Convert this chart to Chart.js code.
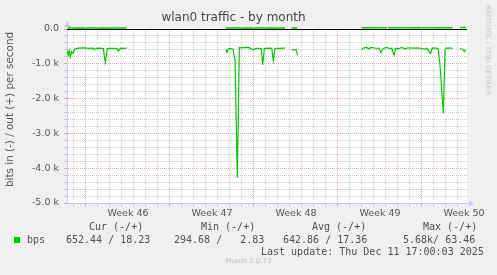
<!DOCTYPE html>
<html>
<head>
<meta charset="utf-8">
<script src="https://cdn.jsdelivr.net/npm/chart.js@4.4.1/dist/chart.umd.min.js"></script>
<style>
  body { margin: 0; background: #f0f0f0; }
  #wrap { position: relative; width: 497px; height: 275px; overflow: hidden; }
  canvas { position: absolute; left: 0; top: 0; }
  .mono { position: absolute; font: 10px "DejaVu Sans Mono", monospace; color: #505050; white-space: pre; line-height: 12px; }
  .sq { position: absolute; left: 14px; top: 237px; width: 6px; height: 6px; background: #00cc00; }
  .munin { position: absolute; left: 0; width: 497px; top: 257px; text-align: center; font: 7px "DejaVu Sans", sans-serif; color: #c0c0c0; }
  .rrd { position: absolute; left: 484px; top: 5px; writing-mode: vertical-rl; font: 7px "DejaVu Sans", sans-serif; color: #c8c8c8; }
  .ytitle { position: absolute; left: 3px; top: 32px; height: 155px; writing-mode: vertical-rl; transform: rotate(180deg);
            font: 10.4px "DejaVu Sans", sans-serif; color: #555; white-space: nowrap; text-align: center; line-height: 13px; }
</style>
</head>
<body>
<div id="wrap">
  <canvas id="trafficChart" width="497" height="275"></canvas>
</div>
<script>
// x = days since Monday of week 46, y = bits per second
const inDays = [-1.58, -1.48, -1.39, -1.31, -1.19, -1.08, -0.92, -0.6, -0.2, 0.2, 0.58, 0.69, 0.83, 1.1, 1.44, 1.61, 1.78, 2.1, 2.56, 2.69, 2.89, 3.15, 3.39, 3.6,
  11.64, 11.75, 11.86, 12.0, 12.25, 12.42, 12.61, 12.78, 13.0, 13.3, 13.6, 13.94, 14.08, 14.3, 14.6, 14.73, 14.86, 15.2, 15.48, 15.61, 15.75, 16.1, 16.58, 16.9,
  17.14, 17.5, 17.64, 17.9,
  22.97, 23.11, 23.39, 23.53, 23.81, 24.22, 24.4, 24.58, 24.78, 25.06, 25.3, 25.47, 25.67, 25.81, 26.03, 26.31, 26.58, 26.86, 27.28, 27.6, 27.97, 28.25, 28.39,
  28.71, 28.86, 29.22, 29.36, 29.5, 29.78, 29.92, 30.06, 30.47, 30.56, 30.85,
  31.17, 31.39, 31.53, 31.67];
const inBits = [-600, -750, -620, -810, -650, -700, -570, -550, -545, -555, -550, -600, -555, -550, -565, -960, -560, -555, -560, -630, -550, -555, -550, null,
  -600, -670, -575, -560, -580, -900, -4270, -530, -540, -530, -535, -600, -570, -555, -560, -1030, -560, -550, -555, -910, -560, -555, -550, null,
  -600, -600, -750, null,
  -600, -550, -530, -570, -530, -560, -545, -680, -560, -530, -560, -550, -750, -550, -570, -530, -570, -540, -550, -545, -560, -580, -550,
  -700, -550, -550, -580, -1050, -2420, -590, -550, -550, -560, null,
  -560, -580, -650, -600];

const outDays = [-1.58, -0.5, 0.8, 2.0, 3.39, 3.6,
  11.64, 13.0, 14.5, 16.58, 16.9,
  17.14, 17.6, 17.8,
  22.97, 24.0, 25.06, 25.13,
  25.2, 27.0, 29.0, 30.56, 30.8,
  31.17, 31.67];
const outBits = [30, 28, 32, 30, 30, null,
  30, 32, 30, 30, null,
  30, 30, null,
  35, 33, 35, null,
  35, 35, 35, 35, null,
  45, 45];

const weekNames = ["Week 46", "Week 47", "Week 48", "Week 49", "Week 50"];
const yTickLabels = ["-5.0 k", "-4.0 k", "-3.0 k", "-2.0 k", "-1.0 k", "0.0"];

const statHeads = ["Cur (-/+)", "Min (-/+)", "Avg (-/+)", "Max (-/+)"];
const statVals = ["652.44 / 18.23", "294.68 /   2.83", "642.86 / 17.36", "5.68k/ 63.46"];
const seriesName = "bps";
const lastUpdate = "Last update: Thu Dec 11 17:00:03 2025";

const GRID_MINOR = "rgba(150,150,150,0.45)";
const GRID_MAJOR = "rgba(225,110,110,0.6)";
const AXIS = "#c8c8f6";

// text around the graph (munin style)
const wrap = document.getElementById("wrap");
function addText(cls, txt, left, top) {
    const d = document.createElement("div");
    d.className = cls;
    d.textContent = txt;
    if (left !== null) d.style.left = left + "px";
    if (top !== null) d.style.top = top + "px";
    wrap.appendChild(d);
}
const headX = [89, 201, 312, 423];
const valX = [66, 174, 283, 403];
statHeads.forEach((h, i) => addText("mono", h, headX[i], 221));
statVals.forEach((v, i) => addText("mono", v, valX[i], 234));
addText("mono", seriesName, 27, 234);
addText("mono", lastUpdate, 261, 246);
addText("munin", "Munin 2.0.73", null, null);
addText("rrd", "RRDTOOL / TOBI OETIKER", null, null);
addText("ytitle", "bits in (-) / out (+) per second", null, null);
const sq = document.createElement("div");
sq.className = "sq";
wrap.appendChild(sq);

const toPoints = (xs, ys) => xs.map((x, i) => ({ x: x, y: ys[i] }));

// white plot area, zero line and the little axis arrows
const muninDeco = {
    id: "muninDeco",
    beforeDraw(chart) {
        const a = chart.chartArea;
        const c = chart.ctx;
        c.save();
        c.fillStyle = "#ffffff";
        c.fillRect(a.left, a.top - 1, a.right - a.left, a.bottom - a.top + 1);
        c.restore();
    },
    beforeDatasetsDraw(chart) {
        const a = chart.chartArea;
        const c = chart.ctx;
        const y0 = Math.round(chart.scales.y.getPixelForValue(0)) + 0.5;
        c.save();
        c.strokeStyle = "#000";
        c.lineWidth = 1;
        c.beginPath();
        c.moveTo(a.left, y0);
        c.lineTo(a.right, y0);
        c.stroke();
        c.restore();
    },
    afterDraw(chart) {
        const a = chart.chartArea;
        const c = chart.ctx;
        c.save();
        c.fillStyle = AXIS;
        c.strokeStyle = AXIS;
        c.beginPath();
        c.moveTo(a.left + 0.5, a.top);
        c.lineTo(a.left + 0.5, a.top - 3);
        c.moveTo(a.right, a.bottom + 0.5);
        c.lineTo(a.right + 3, a.bottom + 0.5);
        c.stroke();
        c.beginPath();
        c.moveTo(a.left - 3, a.top - 2);
        c.lineTo(a.left + 3.5, a.top - 2);
        c.lineTo(a.left + 0.5, a.top - 8);
        c.closePath();
        c.fill();
        c.beginPath();
        c.moveTo(a.right + 2, a.bottom - 2.5);
        c.lineTo(a.right + 2, a.bottom + 3.5);
        c.lineTo(a.right + 7, a.bottom + 0.5);
        c.closePath();
        c.fill();
        c.restore();
    }
};

const ctx = document.getElementById("trafficChart").getContext("2d");
new Chart(ctx, {
    type: "line",
    data: {
        datasets: [
            {
                label: "in",
                data: toPoints(inDays, inBits),
                borderColor: "#00cc00",
                borderWidth: 1.2,
                pointRadius: 0,
                tension: 0,
                spanGaps: false
            },
            {
                label: "out",
                data: toPoints(outDays, outBits),
                borderColor: "#00cc00",
                borderWidth: 1.5,
                pointRadius: 0,
                tension: 0,
                spanGaps: false,
                clip: false
            }
        ]
    },
    options: {
        responsive: false,
        animation: false,
        events: [],
        layout: { padding: { left: 0, right: 30, top: 0, bottom: 0 } },
        plugins: {
            legend: { display: false },
            tooltip: { enabled: false },
            title: {
                display: true,
                text: "wlan0 traffic - by month",
                color: "#444",
                font: { family: "DejaVu Sans", size: 12, weight: "normal" },
                padding: { top: 11, bottom: 3.6 }
            }
        },
        scales: {
            x: {
                type: "linear",
                min: -1.583,
                max: 31.75,
                afterBuildTicks: (scale) => {
                    const t = [];
                    for (let v = -1.5; v <= 31.5; v += 0.5) t.push({ value: v });
                    scale.ticks = t;
                },
                afterFit: (scale) => { scale.height = 72; },
                ticks: {
                    autoSkip: false,
                    maxRotation: 0,
                    padding: 2,
                    color: "#555",
                    font: { family: "DejaVu Sans", size: 9.5 },
                    callback: function(value) {
                        const w = (value - 3.5) / 7;
                        if (Number.isInteger(w) && w >= 0 && w < weekNames.length) return weekNames[w];
                        return "";
                    }
                },
                grid: {
                    drawTicks: true,
                    tickLength: 3,
                    tickBorderDash: [],
                    color: (c) => {
                        const v = c.tick ? c.tick.value : 0;
                        if (!Number.isInteger(v)) return "rgba(0,0,0,0)";
                        return v % 7 === 0 ? GRID_MAJOR : GRID_MINOR;
                    }
                },
                border: { display: true, color: AXIS, dash: [1, 1] }
            },
            y: {
                min: -5000,
                max: 0,
                afterFit: (scale) => { scale.width = 67; },
                ticks: {
                    stepSize: 200,
                    autoSkip: false,
                    padding: 5,
                    color: "#555",
                    font: { family: "DejaVu Sans", size: 9.5 },
                    callback: function(value) {
                        if (value % 1000 !== 0) return "";
                        return yTickLabels[(value + 5000) / 1000];
                    }
                },
                grid: {
                    drawTicks: true,
                    tickLength: 3,
                    tickBorderDash: [],
                    color: (c) => {
                        const v = c.tick ? c.tick.value : 0;
                        return v % 1000 === 0 ? GRID_MAJOR : GRID_MINOR;
                    }
                },
                border: { display: true, color: AXIS, dash: [1, 1] }
            }
        }
    },
    plugins: [muninDeco]
});
</script>
</body>
</html>
